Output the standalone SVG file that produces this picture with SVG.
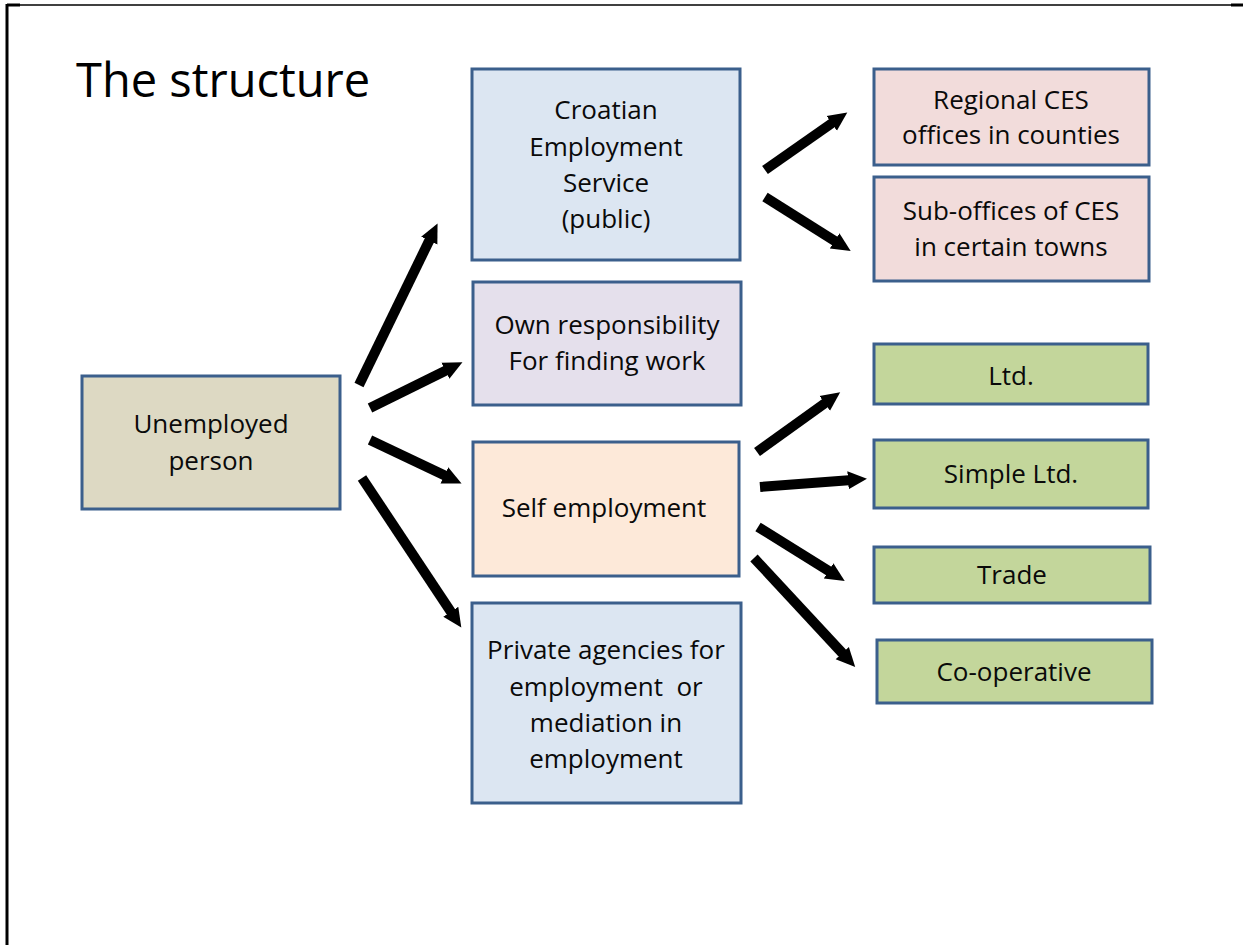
<svg xmlns="http://www.w3.org/2000/svg" width="1243" height="945" viewBox="0 0 1243 945">
  <style>
    .box { stroke: #3b5f8c; stroke-width: 3; }
    .lbl { font-family: "Open Sans", "Liberation Sans", sans-serif; font-size: 26px; fill: #0a0a0a; text-anchor: middle; }
    .title { font-family: "Open Sans", "Liberation Sans", sans-serif; font-size: 47px; fill: #000; }
    .arrow { stroke: #000; stroke-width: 10; fill: none; marker-end: url(#head); }
    .blue { fill: #dce6f2; }
    .tan { fill: #ddd9c3; }
    .lilac { fill: #e5e0ec; }
    .peach { fill: #fde9d9; }
    .rose { fill: #f2dcdb; }
    .green { fill: #c3d69b; }
  </style>
  <defs>
    <marker id="head" markerUnits="userSpaceOnUse" markerWidth="22" markerHeight="22" refX="4" refY="11" orient="auto">
      <path d="M0,2 L19,11 L0,20 Z" fill="#000"/>
    </marker>
  </defs>

  <rect width="1243" height="945" fill="#fff"/>

  <!-- page frame -->
  <g id="frame" stroke="#000" fill="none">
    <line x1="7" y1="5" x2="1232" y2="5" stroke-width="1.5"/>
    <line x1="7" y1="5" x2="20" y2="5" stroke-width="3"/>
    <line x1="1231" y1="5" x2="1243" y2="5" stroke-width="3"/>
    <line x1="7" y1="4" x2="7" y2="945" stroke-width="3"/>
  </g>

  <text class="title" x="76" y="97">The structure</text>

  <g id="connectors">
    <line class="arrow" x1="359" y1="385" x2="431" y2="237"/>
    <line class="arrow" x1="370" y1="408" x2="449" y2="369"/>
    <line class="arrow" x1="370" y1="440" x2="448" y2="477"/>
    <line class="arrow" x1="362" y1="478" x2="453" y2="615"/>
    <line class="arrow" x1="765" y1="170" x2="835" y2="121"/>
    <line class="arrow" x1="765" y1="197" x2="838" y2="243"/>
    <line class="arrow" x1="757" y1="452" x2="828" y2="401"/>
    <line class="arrow" x1="760" y1="487" x2="852" y2="480"/>
    <line class="arrow" x1="758" y1="527" x2="832" y2="573"/>
    <line class="arrow" x1="754" y1="558" x2="845" y2="656"/>
  </g>

  <g id="unemployed">
    <rect class="box tan" x="82" y="376" width="258" height="133"/>
    <text class="lbl" x="211" y="433">Unemployed</text>
    <text class="lbl" x="211" y="470">person</text>
  </g>

  <g id="ces">
    <rect class="box blue" x="472" y="69" width="268" height="191"/>
    <text class="lbl" x="606" y="119">Croatian</text>
    <text class="lbl" x="606" y="156">Employment</text>
    <text class="lbl" x="606" y="192">Service</text>
    <text class="lbl" x="606" y="228">(public)</text>
  </g>

  <g id="own">
    <rect class="box lilac" x="473" y="282" width="268" height="123"/>
    <text class="lbl" x="607" y="334">Own responsibility</text>
    <text class="lbl" x="607" y="370">For finding work</text>
  </g>

  <g id="self">
    <rect class="box peach" x="473" y="442" width="266" height="134"/>
    <text class="lbl" x="604" y="517">Self employment</text>
  </g>

  <g id="private">
    <rect class="box blue" x="472" y="603" width="269" height="200"/>
    <text class="lbl" x="606" y="659">Private agencies for</text>
    <text class="lbl" x="606" y="696" xml:space="preserve">employment  or</text>
    <text class="lbl" x="606" y="732">mediation in</text>
    <text class="lbl" x="606" y="768">employment</text>
  </g>

  <g id="regional">
    <rect class="box rose" x="874" y="69" width="275" height="96"/>
    <text class="lbl" x="1011" y="109">Regional CES</text>
    <text class="lbl" x="1011" y="144">offices in counties</text>
  </g>

  <g id="suboffices">
    <rect class="box rose" x="874" y="177" width="275" height="104"/>
    <text class="lbl" x="1011" y="220">Sub-offices of CES</text>
    <text class="lbl" x="1011" y="256">in certain towns</text>
  </g>

  <g id="ltd">
    <rect class="box green" x="874" y="344" width="274" height="60"/>
    <text class="lbl" x="1011" y="385">Ltd.</text>
  </g>

  <g id="simple-ltd">
    <rect class="box green" x="874" y="440" width="274" height="68"/>
    <text class="lbl" x="1011" y="483">Simple Ltd.</text>
  </g>

  <g id="trade">
    <rect class="box green" x="874" y="547" width="276" height="56"/>
    <text class="lbl" x="1012" y="584">Trade</text>
  </g>

  <g id="cooperative">
    <rect class="box green" x="877" y="640" width="275" height="63"/>
    <text class="lbl" x="1014" y="681">Co-operative</text>
  </g>
</svg>
